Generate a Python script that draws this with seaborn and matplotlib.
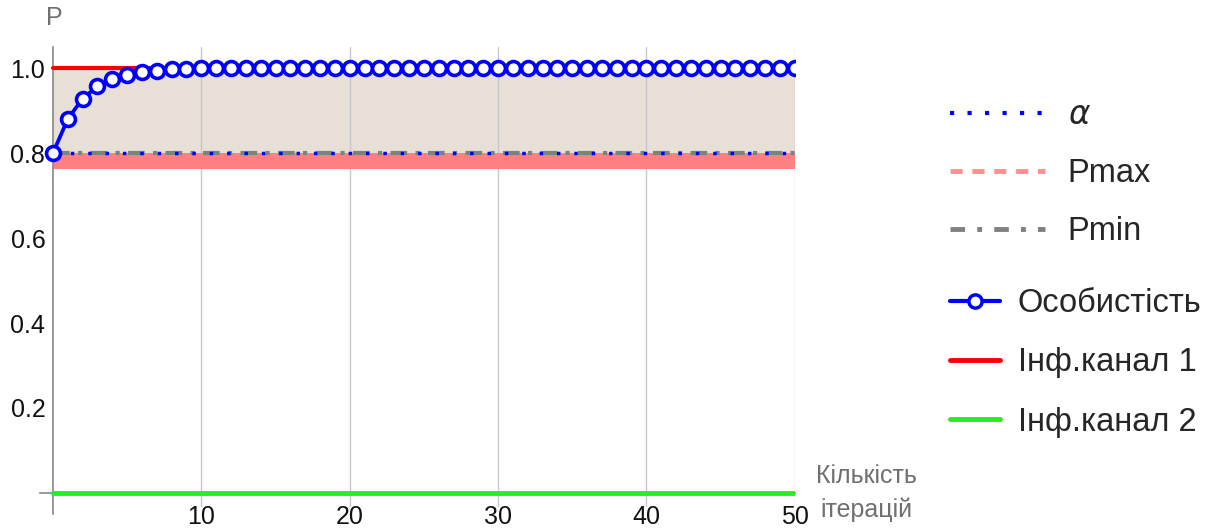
import matplotlib
matplotlib.use("Agg")
import matplotlib.pyplot as plt
from matplotlib.lines import Line2D
from matplotlib.ticker import MultipleLocator, FixedLocator, FuncFormatter
import seaborn as sns
import pandas as pd

# --- data -------------------------------------------------------------
iterations = list(range(0, 51))
personality = [0.800, 0.880, 0.928, 0.957, 0.974, 0.984, 0.991, 0.994, 0.997, 0.998,
               0.999, 1.000, 1.000, 1.000, 1.000, 1.000, 1.000, 1.000, 1.000, 1.000,
               1.000, 1.000, 1.000, 1.000, 1.000, 1.000, 1.000, 1.000, 1.000, 1.000,
               1.000, 1.000, 1.000, 1.000, 1.000, 1.000, 1.000, 1.000, 1.000, 1.000,
               1.000, 1.000, 1.000, 1.000, 1.000, 1.000, 1.000, 1.000, 1.000, 1.000,
               1.000]
channel1 = 1.0          # Інф.канал 1
channel2 = 0.0          # Інф.канал 2
alpha_level = 0.8       # α
p_min = 0.8             # Pmin
p_max_band = [0.762, 0.8]   # Pmax band
x_ticks = [10, 20, 30, 40, 50]
y_ticks = [0.2, 0.4, 0.6, 0.8, 1.0]

df = pd.DataFrame({"iter": iterations, "P": personality})

sns.set_style("white")
plt.rcParams["font.family"] = ["Liberation Sans", "DejaVu Sans"]
plt.rcParams["mathtext.fontset"] = "dejavusans"

fig = plt.figure(figsize=(12.19, 5.29), dpi=100)
ax = fig.add_axes([0.0325, 0.0279, 0.652 - 0.0325, 0.9116 - 0.0279])
ax.set_xlim(-0.9, 50)
ax.set_ylim(-0.05, 1.05)

x0, x1 = iterations[0], iterations[-1]

# shaded region between the levels
ax.fill_between([x0, x1], p_min, channel1, color="#e8dfd6", zorder=1, linewidth=0)
ax.fill_between([x0, x1], p_max_band[0], p_max_band[1], color="#ff8080", zorder=2, linewidth=0)

# vertical grid (stops just above the tick labels)
for xv in x_ticks:
    ax.axvline(xv, ymin=0.02 / 1.1, ymax=1.0, color="#c8c8c8", lw=1.0, zorder=1.5)

# channels
sns.lineplot(x=[x0, x1], y=[channel1, channel1], color="#ff0000", lw=3.0, ax=ax, zorder=3)
sns.lineplot(x=[x0, x1], y=[channel2, channel2], color="#22ee22", lw=3.5, ax=ax, zorder=3)

# threshold levels
ax.plot([x0, x1], [p_min, p_min], color="#808080", lw=3, ls=(0, (4, 2, 1, 2)), zorder=4)
ax.plot([x0, x1], [alpha_level, alpha_level], color="#0000ff", lw=2.5, ls=(0, (1, 4)), zorder=4.5)

# personality curve
sns.lineplot(data=df, x="iter", y="P", color="#0000ff", lw=2.7, marker="o", ax=ax, zorder=6)
curve = ax.lines[-1]
curve.set_markersize(10.0)
curve.set_markeredgewidth(2.6)
curve.set_markerfacecolor("white")
curve.set_markeredgecolor("#0000ff")

# axes styling
for s in ["top", "right"]:
    ax.spines[s].set_visible(False)
ax.spines["left"].set_position(("data", 0))
ax.spines["bottom"].set_position(("data", 0))
for s in ["left", "bottom"]:
    ax.spines[s].set_color("#888888")
    ax.spines[s].set_linewidth(1.2)
ax.xaxis.set_major_locator(FixedLocator(x_ticks))
ax.xaxis.set_minor_locator(MultipleLocator(2))
ax.yaxis.set_major_locator(FixedLocator([0.0] + y_ticks))
ax.yaxis.set_minor_locator(MultipleLocator(0.05))
ax.yaxis.set_major_formatter(FuncFormatter(lambda v, p: "" if abs(v) < 1e-9 else f"{v:.1f}"))
ax.tick_params(axis="both", which="major", direction="in", length=5, width=1.1,
               color="#888888", labelsize=18, labelcolor="#111111")
ax.tick_params(axis="both", which="minor", direction="in", length=3, width=1.0,
               color="#888888")
ax.tick_params(axis="y", which="major", pad=5.5)
ax.tick_params(axis="x", which="major", pad=8.5)
ax.set_xlabel("")
ax.set_ylabel("")

fig.text(54 / 1219, 1 - 18 / 529, "P", color="#707070", fontsize=18, ha="center", va="center")
fig.text(866 / 1219, 1 - 493 / 529, "Кількість\nітерацій", color="#707070", fontsize=18,
         ha="center", va="center", linespacing=1.45)

# legends
h1 = [Line2D([], [], color="#0000ff", lw=3, ls=(0, (1, 3.2))),
      Line2D([], [], color="#ff9090", lw=3.5, ls=(0, (2.5, 2))),
      Line2D([], [], color="#808080", lw=3.5, ls=(0, (3, 2.5, 1, 2.5)))]
l1 = fig.legend(h1, ["$\\alpha$", "Pmax", "Pmin"], loc="upper left",
                bbox_to_anchor=(937 / 1219, 1 - 87 / 529), frameon=False, fontsize=23.5,
                handlelength=2.9, handletextpad=0.7, labelspacing=0.83, borderaxespad=0)
h2 = [Line2D([], [], color="#0000ff", lw=3, marker="o", markersize=9.5,
             markerfacecolor="white", markeredgewidth=2.5),
      Line2D([], [], color="#ff0000", lw=3.5),
      Line2D([], [], color="#22ee22", lw=3.5)]
l2 = fig.legend(h2, ["Особистість", "Інф.канал 1", "Інф.канал 2"], loc="upper left",
                bbox_to_anchor=(937 / 1219, 1 - 275 / 529), frameon=False, fontsize=23.5,
                handlelength=1.53, handletextpad=0.55, labelspacing=0.87, borderaxespad=0)

fig.savefig("out.png", dpi=100)
